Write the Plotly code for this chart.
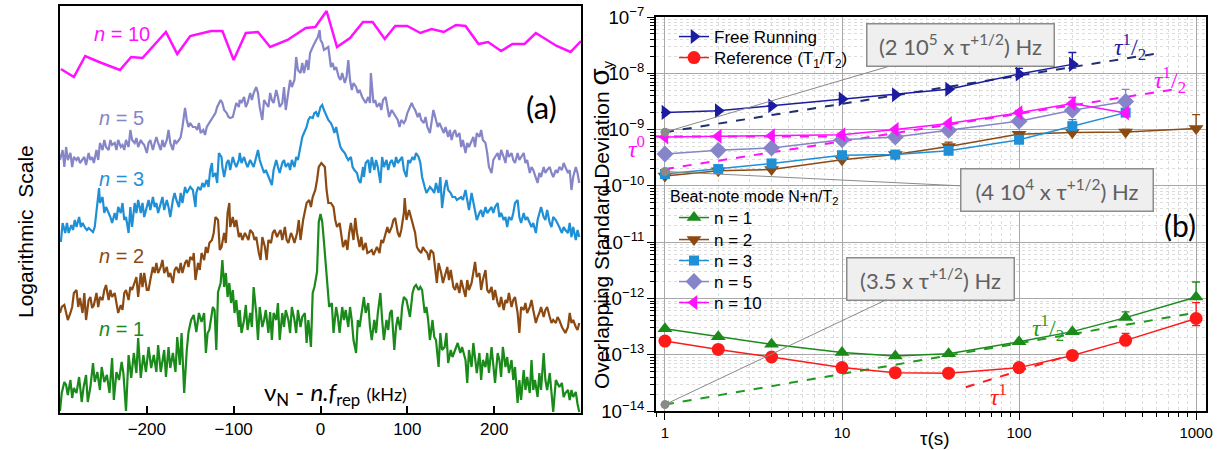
import numpy as np
import plotly.graph_objects as go

# ---------------- Panel (a): spectra (arbitrary log units) ----------------
green_x = [-300,-298,-295,-293,-291,-288,-286,-284,-281,-278,-275,-273,-270,-268,-265,-262,-260,-257,-254,-252,
           -249,-246,-243,-240,-238,-235,-232,-229,-227,-224,-221,-218,-215,-212,-210,-207,-204,-201,-198,-195,
           -192,-189,-187,-184,-180,-178,-175,-173,-170,-167,-165,-162,-160,-157,-154,-152,-149,
           -146,-143,-140,-137,-134,-132,-130,-128,-124,-122,-120,-118,-115,-113,-111,-109,-107,-105,-103,-101,
           -99,-97,-94,-93,-91,-88,-86,-84,-81,-79,-77,-74,-72,-70,-67,-65,-63,-60,-58,-56,
           -54,-51,-49,-47,-44,-42,-40,-37,-35,-33,-30,-28,-26,-23,-21,-18,-16,-14,-11,-9,
           -7,-4,-2,0,2,4,6,8,10,
           13,15,18,20,22,25,27,29,32,34,36,38,41,43,45,48,50,52,55,57,
           59,62,64,66,69,71,73,76,78,80,82,85,87,89,92,94,96,99,101,103,
           106,108,110,113,115,117,120,122,124,126,129,131,133,136,138,140,143,145,147,150,152,
           155,158,161,163,167,169,171,174,176,178,180,183,185,187,190,192,194,197,199,201,
           204,206,208,210,213,215,217,220,222,224,227,229,231,234,236,238,241,243,245,247,
           250,252,254,257,259,261,264,266,268,271,273,275,278,280,282,285,287,289,291,294,296,298]
green_y = [1,19,30,27,17,32,14,24,19,35,10,24,37,10,25,49,30,40,22,45,
           30,37,19,54,12,40,32,50,39,1,57,34,59,39,74,34,57,40,65,44,
           57,40,67,40,62,35,65,44,59,40,75,47,79,19,62,80,92,
           97,80,99,90,99,59,79,82,105,102,62,120,129,152,125,139,115,129,109,122,
           99,112,85,102,79,92,107,82,99,85,125,99,72,105,85,92,102,79,100,72,
           99,92,109,72,99,85,102,92,79,105,92,79,102,85,95,99,69,92,65,119,
           125,140,190,198,190,170,145,125,105,
           109,79,105,95,79,105,92,102,85,105,92,72,59,92,85,102,115,99,109,85,
           72,92,79,99,119,92,72,92,82,99,102,62,85,95,82,105,115,112,105,95,
           119,125,127,122,125,122,99,105,92,72,92,75,72,45,79,62,65,79,49,62,55,
           62,69,59,65,52,29,62,45,69,52,39,59,32,52,45,59,39,65,45,29,
           59,52,35,65,45,55,39,52,32,45,9,32,12,42,22,35,19,52,22,32,
           15,39,22,59,32,22,39,19,0,32,29,25,29,15,19,22,12,22,15,20,8,0]

brown_x = [-300,-298,-295,-293,-291,-288,-286,-284,-281,-279,-277,-274,-272,-270,-267,-265,-263,-261,-258,-256,
           -254,-251,-249,-247,-244,-242,-240,-237,-235,-233,-230,-228,-226,-224,-221,-219,-217,-214,-212,-210,
           -207,-205,-203,-200,-198,-196,-193,-191,-189,-187,-184,-182,-180,-177,-175,-173,-170,-168,-166,-163,
           -161,-159,-156,-154,-152,-150,-147,
           -146,-144,-141,-139,-137,-134,-132,-130,-128,-125,-123,-121,-118,-116,-114,-111,-109,-107,-105,-104,
           -101,-99,-97,-94,-92,-90,-87,-85,-83,-81,-78,-76,-74,-71,-69,-67,-64,-62,-60,-57,
           -55,-53,-50,-48,-46,-44,-41,-39,-37,-34,-32,-30,-27,-25,-23,-20,-18,-16,-13,-11,
           -9,-6,-4,-2,1,3,5,7,9,
           12,15,17,19,22,24,26,29,31,33,35,38,40,42,45,47,49,52,54,56,
           59,61,63,65,68,70,72,75,77,79,82,84,86,89,91,93,96,97,99,102,
           104,106,109,111,113,116,118,120,123,125,127,130,132,134,136,139,141,143,146,148,150,153,
           155,157,160,162,164,167,169,171,174,176,178,180,183,185,187,190,192,194,197,199,
           201,204,206,208,211,213,215,217,220,222,224,227,229,231,234,236,238,241,243,245,
           248,250,252,254,257,259,261,264,266,268,271,273,275,278,280,282,285,287,289,291,294,296,298]
brown_y = [99,105,107,100,92,99,105,119,122,105,114,99,119,92,112,115,104,107,119,105,
           115,112,122,127,112,122,115,119,109,99,107,102,119,122,112,125,122,130,135,115,
           139,125,139,122,122,132,145,139,149,139,145,152,139,145,135,139,129,142,145,139,
           149,139,149,152,145,155,152,
           159,132,149,142,159,152,165,159,169,172,179,195,192,162,165,179,169,199,209,185,
           195,185,192,175,179,172,179,175,172,182,179,172,175,159,152,175,165,152,172,169,
           179,182,175,179,182,172,185,172,169,179,175,169,179,192,172,192,199,209,212,205,
           215,222,232,245,249,247,245,222,209,
           209,205,192,185,189,175,165,172,162,179,189,172,194,179,165,175,162,169,159,160,
           162,157,162,165,159,172,169,179,185,179,185,192,194,179,175,182,199,214,192,202,
           195,189,179,165,162,159,165,162,159,152,162,159,145,129,149,139,129,135,145,132,142,125,
           122,129,119,132,125,115,132,122,129,139,150,135,139,122,132,142,122,119,125,112,
           122,109,105,115,102,112,109,119,105,112,115,99,79,105,102,109,99,105,112,102,
           89,95,99,105,95,102,105,95,89,92,89,95,92,85,82,79,85,99,89,92,85,82,89]

blue_x = [-299,-297,-294,-292,-290,-287,-285,-283,-281,-278,-276,-274,-271,-269,-267,-264,-262,-260,-257,-255,
          -254,-251,-249,-247,-244,-242,-240,-237,-235,-233,-230,-228,-226,-224,-221,-219,-217,-214,-212,-210,
          -207,-205,-203,-200,-198,-196,-193,-191,-189,-187,-184,-182,-180,-177,-175,-173,-170,-168,-166,-163,
          -161,-159,-156,-154,-152,-150,-147,
          -144,-143,-141,-138,-136,-134,-131,-129,-127,-125,-124,-121,-119,-117,-114,-113,-111,-108,-106,-104,
          -101,-99,-97,-94,-93,-91,-88,-86,-84,-81,-79,-77,-74,-72,-70,-67,-65,-63,-60,-58,
          -56,-54,-51,-49,-47,-44,-42,-40,-37,-35,-33,-30,-28,-26,-23,-21,-19,-16,-14,-12,
          -9,-7,-5,-3,0,2,4,7,9,
          12,14,16,18,21,23,25,28,30,32,35,37,39,42,44,46,49,50,52,55,
          57,59,62,64,66,69,71,73,76,78,80,82,85,87,89,92,94,96,99,101,
          103,106,108,110,113,115,117,120,122,124,126,129,131,133,136,138,140,143,145,147,150,152,
          155,157,160,162,164,167,169,171,174,176,178,180,183,185,187,190,192,194,197,199,
          201,204,206,208,211,213,215,217,220,222,224,227,229,231,234,236,238,241,243,245,
          248,250,252,254,257,259,261,264,266,268,271,273,275,278,280,282,285,287,289,291,294,296,298]
blue_y = [170,189,179,189,179,187,182,192,185,195,185,189,184,182,184,182,180,185,205,224,
          209,215,199,205,199,195,189,199,192,205,199,209,192,195,179,205,185,209,199,212,
          199,209,195,205,212,202,215,205,209,199,209,215,202,212,205,195,212,219,212,205,
          219,209,225,219,222,225,222,
          205,219,225,222,229,225,232,225,242,249,235,239,229,259,255,245,235,249,252,242,
          255,249,245,252,259,249,255,249,245,252,249,245,255,262,252,245,239,242,235,232,
          227,242,252,245,239,249,252,245,249,242,252,245,255,252,265,275,279,285,292,295,
          294,299,300,295,305,307,302,295,292,
          289,285,279,285,272,265,262,259,255,252,255,245,242,239,232,229,245,235,249,252,
          239,255,242,252,245,229,255,245,252,242,249,252,245,255,249,252,255,242,235,252,
          249,255,252,259,255,249,235,225,219,222,225,222,219,229,219,235,204,225,232,222,219,215,
          215,212,214,215,212,222,212,202,219,209,199,192,199,202,195,205,199,202,205,199,
          205,209,195,199,192,195,185,195,192,199,209,212,195,189,199,192,195,189,185,189,
          179,192,199,205,195,192,202,189,185,195,192,189,185,179,185,182,179,189,175,185,172,182,175]

lav_x = [-300,-297,-295,-293,-291,-288,-286,-284,-281,-279,-277,-274,-272,-270,-267,-265,-263,-261,-258,-256,
         -254,-251,-249,-247,-244,-242,-240,-237,-235,-233,-230,-228,-226,-224,-221,-219,-217,-214,-212,-210,
         -207,-205,-203,-200,-198,-196,-193,-191,-189,-187,-184,-182,-180,-177,-175,-173,-170,-168,-166,-163,
         -161,-159,-156,-154,-152,-150,-147,
         -144,-142,-140,-138,-135,-133,-131,-128,-126,-124,-121,-119,-117,-115,-113,-111,-108,-106,-104,-101,
         -99,-97,-94,-93,-91,-88,-86,-84,-81,-79,-77,-74,-72,-70,-67,-65,-63,-60,-58,-56,
         -54,-51,-49,-47,-44,-42,-40,-37,-35,-33,-30,-28,-26,-23,-21,-19,-16,-14,-12,-9,
         -7,-5,-3,-1,0,2,4,7,9,
         12,14,16,18,21,23,25,28,30,32,34,36,38,41,43,45,48,50,52,55,
         57,58,61,63,65,68,70,72,75,77,79,82,84,86,89,91,93,96,98,100,
         103,105,107,109,112,114,116,119,121,123,126,128,130,133,135,137,140,142,144,147,149,151,153,
         155,157,160,162,164,167,169,171,174,176,178,180,183,185,187,190,192,194,197,199,
         201,204,206,208,211,213,215,217,220,222,224,227,229,231,234,236,238,241,243,245,
         248,250,252,254,257,259,261,264,266,268,271,273,275,278,280,282,285,287,289,291,294,296,298]
lav_y = [252,262,245,265,252,259,245,255,252,255,249,252,255,247,259,252,255,249,262,252,
         269,262,272,265,262,272,267,269,262,272,265,267,262,272,265,282,272,269,274,265,
         272,269,267,259,269,272,262,269,275,269,262,272,265,272,282,269,262,272,269,272,
         275,285,304,292,285,289,285,
         285,282,289,279,282,277,285,289,292,295,299,305,309,312,309,302,299,295,294,295,
         302,309,305,312,309,315,305,309,319,312,319,325,319,305,292,312,309,305,319,312,
         309,322,315,305,309,325,302,319,332,325,332,355,342,339,349,339,352,342,359,365,
         369,372,375,382,372,369,362,364,365,
         345,349,342,345,335,332,339,329,335,352,332,322,329,325,319,322,315,312,309,315,
         309,339,309,312,305,309,302,312,315,305,295,302,299,295,292,285,292,289,292,299,
         305,309,305,302,295,299,292,289,295,285,279,292,302,292,285,289,282,279,285,275,282,272,279,
         282,275,279,265,272,259,269,265,272,275,265,279,275,282,272,269,259,245,239,252,
         255,259,252,262,255,249,262,255,259,252,249,259,252,255,259,249,252,239,245,242,
         235,229,239,235,245,239,242,245,239,235,242,239,245,242,249,245,239,242,222,235,245,239,229]

mag_x = [-299,-284,-271,-255,-231,-218,-205,-178,-165,-150,-126,-113,-100,-86,-72,-58,-38,-17,-6,7,
         19,34,49,60,74,86,100,115,128,142,156,167,182,193,208,221,235,248,272,288,300]
mag_y = [343,335,356,350,342,355,354,380,358,376,381,381,352,379,380,365,372,384,385,401,
         365,374,390,390,373,386,386,379,383,380,387,386,368,370,361,368,368,379,366,360,371]

# ---------------- Panel (b): Allan deviations ----------------
tau = [1, 2, 4, 10, 20, 40, 100, 200, 400, 1000]
free_running = [2.02e-9, 2.16e-9, 2.65e-9, 3.48e-9, 4.15e-9, 5.22e-9, 9.7e-9, 1.44e-8]
free_err_p = [0, 0, 0, 0, 0, 0, 2.5e-9, 9e-9]
free_err_m = [0, 0, 0, 0, 0, 0, 1e-9, 2e-9]
reference = [1.75e-13, 1.24e-13, 9.1e-14, 5.9e-14, 4.8e-14, 4.7e-14, 5.9e-14, 9.7e-14, 1.8e-13, 4.4e-13]
ref_err_p = [0, 0, 0, 0, 0, 0, 0, 0, 6e-14, 4e-13]
ref_err_m = [0, 0, 0, 0, 0, 0, 0, 0, 2e-14, 1.1e-13]
n1 = [2.9e-13, 2.09e-13, 1.53e-13, 1.09e-13, 9.5e-14, 1.04e-13, 1.7e-13, 2.57e-13, 4.56e-13, 1.06e-12]
n1_err = [0, 0, 0, 0, 0, 0, 0, 0, 1.2e-13, 9e-13]
n2 = [1.5e-10, 1.85e-10, 1.95e-10, 2.9e-10, 3.6e-10, 5.0e-10, 8.3e-10, 8.9e-10, 9.1e-10, 1.05e-9]
n2_err = [0, 0, 0, 0, 0, 1e-10, 0, 1e-10, 1e-10, 8e-10]
n3 = [1.62e-10, 1.99e-10, 2.5e-10, 3.5e-10, 3.6e-10, 4.2e-10, 6.6e-10, 1.15e-9, 2.0e-9]
n3_err = [0, 0, 0, 0, 0, 0, 0, 3.5e-10, 0]
n5 = [3.67e-10, 4.27e-10, 4.71e-10, 6.6e-10, 7.4e-10, 9.7e-10, 1.41e-9, 2.21e-9, 3.16e-9]
n5_err = [0, 0, 0, 0, 0, 0, 0, 0, 2e-9]
n10 = [7.4e-10, 7.6e-10, 7.8e-10, 8.1e-10, 1.0e-9, 1.28e-9, 1.99e-9, 2.91e-9, 1.97e-9]
n10_err = [0, 0, 0, 0, 0, 0, 2e-10, 8e-10, 3e-10]

fr_fit_x, fr_fit_y = [1, 577], [9.0e-10, 2.2e-8]
n10_fit_x, n10_fit_y = [1, 729], [1.99e-10, 5.1e-9]
n10_flat_x, n10_flat_y = [0.89, 10], [7.5e-10, 7.5e-10]
n1_fit_x, n1_fit_y = [1, 1000], [1.3e-14, 5.6e-13]
ref_fit_x, ref_fit_y = [50, 210], [2.65e-14, 1.06e-13]
anchor_x = [1, 1, 1]
anchor_y = [9.0e-10, 1.8e-10, 1.3e-14]

C_GREEN = "#1a8a1a"
C_BROWN = "#8b4a12"
C_BLUE = "#1f8fd6"
C_LAV = "#8585c8"
C_MAG = "#ff10ff"
C_NAVY = "#1c1ca0"
C_RED = "#ff1a1a"

W, H = 1217, 450
def px(x): return x / W
def py(y): return 1 - y / H

fig = go.Figure()

for xs, ys, c, w in [(green_x, green_y, C_GREEN, 2.2), (brown_x, brown_y, C_BROWN, 2.2),
                     (blue_x, blue_y, C_BLUE, 2.2), (lav_x, lav_y, C_LAV, 2.2),
                     (mag_x, mag_y, C_MAG, 2.5)]:
    fig.add_trace(go.Scatter(x=xs, y=ys, mode="lines", line=dict(color=c, width=w),
                             xaxis="x", yaxis="y", showlegend=False, hoverinfo="skip"))

fits = [(fr_fit_x, fr_fit_y, "#1f2f70"), (n10_fit_x, n10_fit_y, C_MAG),
        (n10_flat_x, n10_flat_y, C_MAG), (n1_fit_x, n1_fit_y, "#1f9a1f"),
        (ref_fit_x, ref_fit_y, C_RED)]
for xs, ys, c in fits:
    fig.add_trace(go.Scatter(x=xs, y=ys, mode="lines", line=dict(color=c, width=2, dash="dash"),
                             xaxis="x2", yaxis="y2", showlegend=False, hoverinfo="skip"))

def eb(p, m=None, c="black"):
    return dict(type="data", array=p, arrayminus=(m if m is not None else [0] * len(p)),
                symmetric=False, color=c, thickness=1.3, width=4, visible=True)

# legend row centres (px from top) for each entry
series = [
    ("Free Running", tau[:8], free_running, C_NAVY, "triangle-right", 13, eb(free_err_p, free_err_m, C_NAVY), 37),
    ("Reference (T<sub>1</sub>/T<sub>2</sub>)", tau, reference, C_RED, "circle", 13, eb(ref_err_p, ref_err_m, C_RED), 58),
    ("n = 1", tau, n1, C_GREEN, "triangle-up", 13, eb(n1_err, None, C_GREEN), 218),
    ("n = 2", tau, n2, C_BROWN, "triangle-down", 13, eb(n2_err, None, C_BROWN), 240),
    ("n = 3", tau[:9], n3, C_BLUE, "square", 10, eb(n3_err, None, C_BLUE), 261),
    ("n = 5", tau[:9], n5, C_LAV, "diamond", 13, eb(n5_err, None, C_LAV), 282),
    ("n = 10", tau[:9], n10, C_MAG, "triangle-left", 13, eb(n10_err, None, C_MAG), 303),
]
legends = {}
for i, (name, xs, ys, c, sym, sz, err, row) in enumerate(series):
    lname = "legend" if i == 0 else "legend%d" % (i + 1)
    fig.add_trace(go.Scatter(x=xs, y=ys, name=name, mode="lines+markers",
                             line=dict(color=c, width=1.5),
                             marker=dict(symbol=sym, size=sz, color=c),
                             error_y=err, xaxis="x2", yaxis="y2", legend=lname))
    legends[lname] = dict(x=px(674), y=py(row), xanchor="left", yanchor="middle",
                          bgcolor="rgba(0,0,0,0)", borderwidth=0, font=dict(size=17))

fig.add_trace(go.Scatter(x=anchor_x, y=anchor_y, mode="markers",
                         marker=dict(color="#8a8a8a", size=9), xaxis="x2", yaxis="y2",
                         showlegend=False, hoverinfo="skip"))

SANS = "Liberation Sans, Arial, sans-serif"
CAL = "Lato, Liberation Sans, sans-serif"
SERIF = "Liberation Serif, DejaVu Serif, serif"

def pann(x0, y0, text, size, color="black", family=SANS, angle=0, xa="center"):
    return dict(x=px(x0), y=py(y0), xref="paper", yref="paper", text=text, showarrow=False,
                xanchor=xa, yanchor="middle", textangle=angle,
                font=dict(size=size, color=color, family=family))

ann = []
for txt, yv, c in [("<i>n</i> = 10", 378, C_MAG), ("<i>n</i> = 5", 294, C_LAV),
                   ("<i>n</i> = 3", 233, C_BLUE), ("<i>n</i> = 2", 156, C_BROWN),
                   ("<i>n</i> = 1", 83, C_GREEN)]:
    ann.append(dict(x=-229, y=yv, xref="x", yref="y", text=txt, showarrow=False,
                    xanchor="center", yanchor="middle", font=dict(size=20, color=c, family=SANS)))
ann.append(dict(x=254, y=305, xref="x", yref="y", text="(a)", showarrow=False,
                xanchor="center", yanchor="middle", font=dict(size=31, color="black", family=CAL)))
ann.append(dict(x=17, y=19, xref="x", yref="y",
                text="ν<sub>N</sub> - <i>n.f</i><sub>rep</sub> <span style='font-size:18px'>(kHz)</span>",
                showarrow=False, xanchor="center", yanchor="middle",
                font=dict(size=24, color="black", family=CAL)))
ann.append(pann(25, 232, "Logarithmic  Scale", 21, angle=-90))

ann.append(pann(600, 225, "Overlapping Standard Deviation <span style='font-size:28px'>σ</span><sub>y</sub>",
                21, angle=-90))
ann.append(pann(935, 438, "τ(s)", 19))
ann.append(pann(1180, 225, "(b)", 30, family=CAL))
ann.append(pann(668, 198, "Beat-note mode N+n/T<sub>2</sub>", 16, xa="left"))
half = "<i>τ</i><sup>1</sup>/<sub>2</sub>"
for txt, x0, y0, c in [(half, 1130, 47, C_NAVY), (half, 1170, 80, C_MAG),
                       ("<i>τ</i><sup>0</sup>", 636, 147, C_MAG),
                       (half, 1048, 328, "#1f9a1f"), ("<i>τ</i><sup>1</sup>", 998, 395, C_RED)]:
    ann.append(pann(x0, y0, txt, 24, color=c, family=SERIF))

box_txt = ["(2 10<sup>5</sup> x τ<sup>+1/2</sup>) Hz", "(4 10<sup>4</sup> x τ<sup>+1/2</sup>) Hz",
           "(3.5 x τ<sup>+1/2</sup>) Hz"]
offs = [(296, -87), (392, 19), (266, -126)]
box_w = [180, 185, 160]
for t, xv, yv, (dx, dy), bw in zip(box_txt, anchor_x, anchor_y, offs, box_w):
    ann.append(dict(x=np.log10(xv), y=np.log10(yv), xref="x2", yref="y2", text=t,
                    showarrow=True, ax=dx, ay=dy, arrowhead=2, arrowsize=1, arrowwidth=1,
                    arrowcolor="#8a8a8a", bgcolor="#efefef", bordercolor="#8c8c8c",
                    borderwidth=1.5, borderpad=3, width=bw, height=35,
                    font=dict(size=22, color="#606060", family=CAL)))

grid_minor = dict(ticks="outside", ticklen=4, tickcolor="black", showgrid=True,
                  gridcolor="#dcdcdc", griddash="dot", gridwidth=1, dtick="D1")

fig.update_layout(
    width=W, height=H, autosize=False,
    margin=dict(l=0, r=0, t=0, b=0, pad=0, autoexpand=False),
    paper_bgcolor="white", plot_bgcolor="white",
    font=dict(family=SANS, color="black"),
    xaxis=dict(domain=[px(60), px(581)], range=[-300, 300], tickvals=[-200, -100, 0, 100, 200],
               ticks="inside", ticklen=7, tickwidth=2, tickcolor="black",
               showline=True, mirror=True, linecolor="black", linewidth=2,
               showgrid=False, zeroline=False, tickfont=dict(size=17), anchor="y", automargin=False),
    yaxis=dict(domain=[py(413), py(6)], range=[-1, 406], showticklabels=False, ticks="",
               showline=True, mirror=True, linecolor="black", linewidth=2,
               showgrid=False, zeroline=False, anchor="x", automargin=False),
    xaxis2=dict(type="log", domain=[px(656), px(1206)], range=[-0.0506, 3.056], dtick=1,
                ticks="outside", ticklen=7, tickcolor="black", showline=True, mirror=True,
                linecolor="black", linewidth=1.5, showgrid=True, gridcolor="#a8a8a8", gridwidth=1.2,
                zeroline=False, tickfont=dict(size=15), minor=grid_minor, anchor="y2", automargin=False),
    yaxis2=dict(type="log", domain=[py(411), py(17)], range=[-14, -7], dtick=1,
                exponentformat="power", showexponent="all",
                ticks="outside", ticklen=7, tickcolor="black", showline=True, mirror=True,
                linecolor="black", linewidth=1.5, showgrid=True, gridcolor="#a8a8a8", gridwidth=1.2,
                zeroline=False, tickfont=dict(size=15), minor=grid_minor, anchor="x2", automargin=False),
    annotations=ann,
    **legends,
)

fig.write_html("out.html", config={"displayModeBar": False},
               post_script="document.body.style.margin='0';document.body.style.overflow='hidden';")
